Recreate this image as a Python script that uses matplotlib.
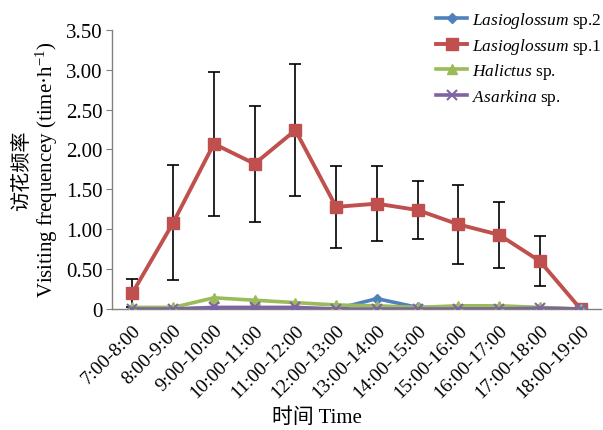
import matplotlib
matplotlib.use("Agg")
import matplotlib.pyplot as plt
import numpy as np

# time slots on the x axis
slots = ["7:00-8:00", "8:00-9:00", "9:00-10:00", "10:00-11:00", "11:00-12:00",
         "12:00-13:00", "13:00-14:00", "14:00-15:00", "15:00-16:00",
         "16:00-17:00", "17:00-18:00", "18:00-19:00"]

# visiting frequency (time/h)
lasio2 = [0.00, 0.00, 0.01, 0.01, 0.01, 0.00, 0.13, 0.02, 0.01, 0.01, 0.01, 0.00]
lasio1 = [0.20, 1.08, 2.07, 1.82, 2.24, 1.28, 1.32, 1.24, 1.06, 0.93, 0.60, 0.00]
lasio1_err = [0.18, 0.72, 0.90, 0.73, 0.83, 0.51, 0.47, 0.36, 0.50, 0.41, 0.31, 0.00]
halictus = [0.02, 0.02, 0.14, 0.11, 0.08, 0.05, 0.04, 0.02, 0.04, 0.04, 0.02, 0.00]
asarkina = [0.00, 0.00, 0.02, 0.02, 0.02, 0.00, 0.00, 0.00, 0.00, 0.00, 0.01, 0.00]

yticks = [0, 0.5, 1.0, 1.5, 2.0, 2.5, 3.0, 3.5]
ytick_labels = ["0", "0.50", "1.00", "1.50", "2.00", "2.50", "3.00", "3.50"]

serif = ["Liberation Serif", "Noto Sans CJK SC", "DejaVu Serif"]
plt.rcParams["font.family"] = serif
plt.rcParams["mathtext.fontset"] = "custom"
plt.rcParams["mathtext.rm"] = "Liberation Serif"
plt.rcParams["mathtext.it"] = "Liberation Serif:italic"

fig = plt.figure(figsize=(6.03, 4.31), dpi=100)
ax = fig.add_axes([112 / 603, 1 - 310 / 431, (601 - 112) / 603, (310 - 30.7) / 431])

x = np.arange(len(slots))

ax.errorbar(x, lasio1, yerr=lasio1_err, fmt="none", ecolor="black",
            elinewidth=1.2, capsize=4, capthick=1.2, zorder=2)
ax.plot(x, lasio2, color="#4F81BD", lw=2.6, marker="D", ms=5,
        label=r"$\it{Lasioglossum}$ sp.2", zorder=4)
ax.plot(x, lasio1, color="#C0504D", lw=2.8, marker="s", ms=9,
        label=r"$\it{Lasioglossum}$ sp.1", zorder=3)
ax.plot(x, halictus, color="#9BBB59", lw=2.6, marker="^", ms=7,
        label=r"$\it{Halictus}$ sp.", zorder=4)
ax.plot(x, asarkina, color="#8064A2", lw=2.6, marker="x", ms=7, mew=1.5,
        label=r"$\it{Asarkina}$ sp.", zorder=5)

ax.set_xlim(-0.5, len(slots) - 0.5)
ax.set_ylim(0, 3.5)
ax.set_yticks(yticks)
ax.set_yticklabels(ytick_labels, fontsize=15)
ax.set_xticks(x)
ax.set_xticklabels(slots, rotation=45, ha="right", rotation_mode="anchor", fontsize=14)
ax.tick_params(axis="x", length=0, pad=9)
ax.tick_params(axis="y", length=4, color="#808080", direction="out", pad=3)

for side in ["top", "right"]:
    ax.spines[side].set_visible(False)
for side in ["left", "bottom"]:
    ax.spines[side].set_color("#808080")
    ax.spines[side].set_linewidth(1.0)

fig.text(22 / 603, 1 - 171 / 431, "访花频率", rotation=90, ha="center", va="center",
         fontsize=14.5, family=["Noto Sans CJK SC"])
fig.text(47 / 603, 1 - 170 / 431, "Visiting frequencey (time·h$^{-1}$)", rotation=90,
         ha="center", va="center", fontsize=15)
fig.text(317 / 603, 1 - 418 / 431, "时间 Time", ha="center", va="center", fontsize=15,
         family=["Liberation Serif", "Noto Sans CJK SC"])

leg = fig.legend(loc="upper left", bbox_to_anchor=(424 / 603, 1 + 1 / 431), frameon=False,
                 fontsize=12.5, handlelength=1.8, handletextpad=0.25, labelspacing=0.32,
                 borderpad=0.2)

fig.savefig("out.png", dpi=100)
